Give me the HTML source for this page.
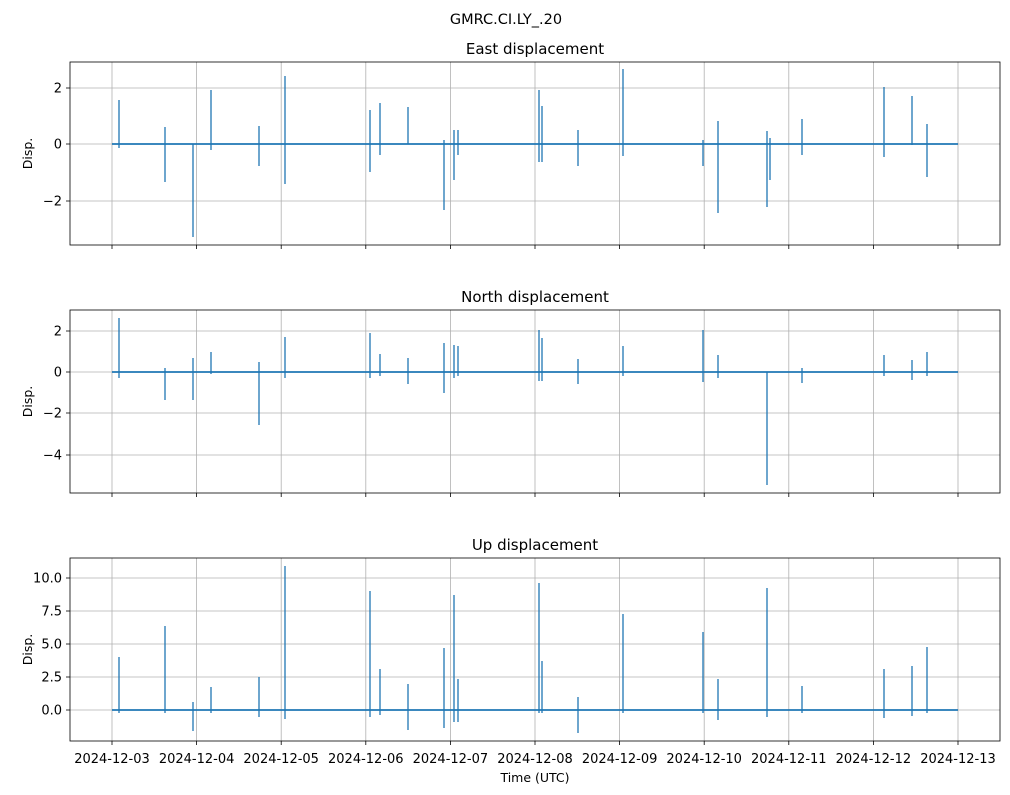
<!DOCTYPE html>
<html><head><meta charset="utf-8"><style>body{margin:0;background:#fff}svg{display:block;font-family:"DejaVu Sans","Liberation Sans",sans-serif}</style></head><body>
<svg width="1010" height="795" viewBox="0 0 1010 795" xmlns="http://www.w3.org/2000/svg">
<rect width="1010" height="795" fill="#fff"/>
<text x="506" y="24" font-size="14.5" text-anchor="middle">GMRC.CI.LY_.20</text>
<script>
var ns="http://www.w3.org/2000/svg";
function el(t,a,p,txt){var e=document.createElementNS(ns,t);for(var k in a)e.setAttribute(k,a[k]);if(txt!==undefined)e.textContent=txt;(p||document.querySelector('svg')).appendChild(e);return e;}
var svg=document.querySelector('svg');
var panels=[
 {top:62,bot:245,title:"East displacement",zero:144,ticks:[[88,"2"],[144,"0"],[201,"−2"]],
  sp:[[119,100,148],[165,127,182],[193,144,237],[211,90,150],[259,126,166],[285,76,184],[370,110,172],[380,103,155],[408,107,144],[444,140,210],[454,130,180],[458,130,155],[539,90,162],[542,106,162],[578,130,166],[623,69,156],[703,140,166],[718,121,213],[767,131,207],[770,138,180],[802,119,155],[884,87,157],[912,96,145],[927,124,177]]},
 {top:310,bot:493,title:"North displacement",zero:372,ticks:[[331,"2"],[372,"0"],[413,"−2"],[455,"−4"]],
  sp:[[119,318,378],[165,368,400],[193,358,400],[211,352,374],[259,362,425],[285,337,378],[370,333,378],[380,354,376],[408,358,384],[444,343,393],[454,345,378],[458,346,376],[539,330,381],[542,338,381],[578,359,384],[623,346,376],[703,330,382],[718,355,378],[767,372,485],[802,368,383],[884,355,376],[912,360,380],[927,352,376]]},
 {top:558,bot:741,title:"Up displacement",zero:710,ticks:[[578,"10.0"],[611,"7.5"],[644,"5.0"],[677,"2.5"],[710,"0.0"]],
  sp:[[119,657,713],[165,626,713],[193,702,731],[211,687,713],[259,677,717],[285,566,719],[370,591,717],[380,669,715],[408,684,730],[444,648,728],[454,595,722],[458,679,722],[539,583,713],[542,661,713],[578,697,733],[623,614,713],[703,632,713],[718,679,720],[767,588,717],[802,686,713],[884,669,718],[912,666,716],[927,647,713]]}
];
var days=[];for(var i=0;i<=10;i++)days.push(112+i*84.6);
panels.forEach(function(p,pi){
  var g=el('g',{},svg);
  days.forEach(function(x){el('line',{x1:x,x2:x,y1:p.top,y2:p.bot,stroke:'#b0b0b0','stroke-width':0.8},g);
    el('line',{x1:x,x2:x,y1:p.bot,y2:p.bot+4,stroke:'#000','stroke-width':0.8},g);});
  p.ticks.forEach(function(t){el('line',{x1:70,x2:1000,y1:t[0],y2:t[0],stroke:'#b0b0b0','stroke-width':0.8},g);
    el('line',{x1:66,x2:70,y1:t[0],y2:t[0],stroke:'#000','stroke-width':0.8},g);
    el('text',{x:62,y:t[0]+4.5,'font-size':13,'text-anchor':'end'},g,t[1]);});
  el('line',{x1:112,x2:958,y1:p.zero,y2:p.zero,stroke:'#1f77b4','stroke-width':1.8},g);
  p.sp.forEach(function(s){el('line',{x1:s[0],x2:s[0],y1:s[1],y2:s[2],stroke:'#1f77b4','stroke-width':1.3},g);});
  el('rect',{x:70,y:p.top,width:930,height:p.bot-p.top,fill:'none',stroke:'#000','stroke-width':0.8},g);
  el('text',{x:535,y:p.top-8,'font-size':15,'text-anchor':'middle'},g,p.title);
  var cy=(p.top+p.bot)/2;
  el('text',{x:32,y:cy,'font-size':12.5,'text-anchor':'middle',transform:'rotate(-90 32 '+cy+')'},g,'Disp.');
  if(pi==2){days.forEach(function(x,i){var d=3+i;el('text',{x:x,y:763,'font-size':13,'text-anchor':'middle'},g,'2024-12-'+(d<10?'0'+d:d));});
    el('text',{x:535,y:782,'font-size':12.5,'text-anchor':'middle'},g,'Time (UTC)');}
});
</script>
</svg>
</body></html>
